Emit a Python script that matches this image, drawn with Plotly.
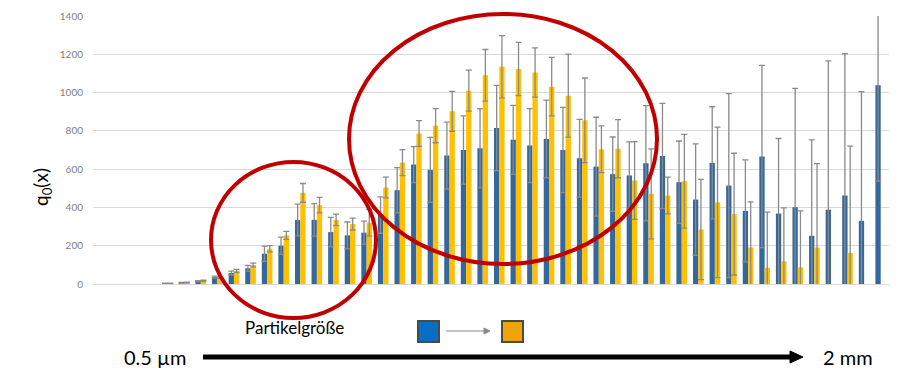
import plotly.graph_objects as go

# ---------------- data ----------------
classes = [str(i + 1) for i in range(48)]

q0_before = [None, None, None, None, 3, 6, 15, 36, 57, 82, 158, 200,
             334, 335, 271, 254, 268, 360, 490, 624, 596, 671, 700, 709,
             815, 753, 723, 758, 700, 657, 613, 574, 567, 631, 669, 532,
             441, 633, 514, 382, 666, 368, 401, 252, 388, 462, 330, 1038]
err_before = [None, None, None, None, 1, 2, 3, 5, 10, 15, 40, 45,
              83, 85, 77, 70, 60, 95, 118, 94, 170, 175, 178, 207,
              223, 180, 193, 203, 223, 203, 258, 194, 175, 301, 275, 215,
              291, 293, 480, 266, 476, 392, 621, 501, 778, 741, 675, 500]

q0_after = [None, None, None, None, 3, 8, 17, 33, 68, 99, 184, 254,
            476, 412, 335, 313, 320, 504, 634, 786, 827, 902, 1010, 1090,
            1135, 1123, 1105, 1031, 984, 855, 704, 707, 541, 471, 462, 537,
            285, 426, 365, 191, 85, 118, 87, 191, None, 162, None, None]
err_after = [None, None, None, None, 1, 2, 3, 4, 8, 10, 16, 21,
             49, 40, 30, 31, 70, 54, 68, 67, 89, 104, 107, 135,
             163, 139, 129, 153, 217, 221, 122, 152, 203, 235, 96, 245,
             262, 393, 318, 238, 290, 280, 295, 438, None, 558, None, None]

y_ticks = [0, 200, 400, 600, 800, 1000, 1200, 1400]
y_title = "q<sub>0</sub>(x)"
size_label = "Partikelgröße"
size_min = "0.5 µm"
size_max = "2 mm"

# ---------------- layout helpers ----------------
W, H = 897, 370
L, R, T, B = 93, 8, 16, 86
PW, PH = W - L - R, H - T - B


def px(xp):
    return (xp - L) / PW


def py(yp):
    return (T + PH - yp) / PH


FONT = "Lato, 'Open Sans', sans-serif"
BLUE = "#34679C"
YELLOW = "#FFC000"
ERR = "#8a8a8a"

fig = go.Figure()
fig.add_trace(go.Bar(
    x=classes, y=q0_before, marker_color=BLUE, marker_line_width=0,
    error_y=dict(type="data", array=err_before, visible=True,
                 color=ERR, thickness=1.3, width=3),
    showlegend=False))
fig.add_trace(go.Bar(
    x=classes, y=q0_after, marker_color=YELLOW, marker_line_width=0,
    error_y=dict(type="data", array=err_after, visible=True,
                 color=ERR, thickness=1.3, width=3),
    showlegend=False))

shapes = []
# red highlight ellipses
shapes.append(dict(type="circle", xref="paper", yref="paper",
                   x0=px(211), x1=px(376), y0=py(318), y1=py(162),
                   line=dict(color="#C00000", width=4), layer="above"))
shapes.append(dict(type="circle", xref="paper", yref="paper",
                   x0=px(349), x1=px(657), y0=py(264), y1=py(14),
                   line=dict(color="#C00000", width=4), layer="above"))
# legend squares
shapes.append(dict(type="rect", xref="paper", yref="paper",
                   x0=px(418), x1=px(439), y0=py(342), y1=py(321),
                   fillcolor="#0A6FC2", line=dict(color="#4a4a4a", width=2)))
shapes.append(dict(type="rect", xref="paper", yref="paper",
                   x0=px(502), x1=px(523), y0=py(342), y1=py(321),
                   fillcolor="#F0A30A", line=dict(color="#4a4a4a", width=2)))
# small grey arrow between the squares
shapes.append(dict(type="line", xref="paper", yref="paper",
                   x0=px(446), x1=px(486), y0=py(331), y1=py(331),
                   line=dict(color="#8a8a8a", width=1)))
shapes.append(dict(type="path", xref="paper", yref="paper",
                   path=f"M {px(484)} {py(328)} L {px(490)} {py(331)} L {px(484)} {py(334)} Z",
                   fillcolor="#8a8a8a", line=dict(color="#8a8a8a", width=1)))
# big size arrow
shapes.append(dict(type="line", xref="paper", yref="paper",
                   x0=px(203), x1=px(792), y0=py(357), y1=py(357),
                   line=dict(color="black", width=5)))
shapes.append(dict(type="path", xref="paper", yref="paper",
                   path=f"M {px(790)} {py(351)} L {px(803)} {py(357)} L {px(790)} {py(363)} Z",
                   fillcolor="black", line=dict(color="black", width=1)))

annotations = [
    dict(text=y_title, xref="paper", yref="paper", x=px(42), y=py(187),
         xanchor="center", yanchor="middle",
         showarrow=False, textangle=-90, font=dict(family=FONT, size=19, color="black")),
    dict(text=size_label, xref="paper", yref="paper", x=px(294), y=py(327),
         xanchor="center", yanchor="middle",
         showarrow=False, font=dict(family=FONT, size=17, color="black")),
    dict(text=size_min, xref="paper", yref="paper", x=px(155), y=py(357),
         xanchor="center", yanchor="middle",
         showarrow=False, font=dict(family=FONT, size=20, color="black")),
    dict(text=size_max, xref="paper", yref="paper", x=px(848), y=py(357),
         xanchor="center", yanchor="middle",
         showarrow=False, font=dict(family=FONT, size=20, color="black")),
]

fig.update_layout(
    width=W, height=H,
    margin=dict(l=L, r=R, t=T, b=B),
    paper_bgcolor="white", plot_bgcolor="white",
    barmode="group", bargap=0.36, bargroupgap=0,
    shapes=shapes, annotations=annotations,
    font=dict(family=FONT),
)
fig.update_xaxes(showticklabels=False, showgrid=False, zeroline=False,
                 showline=False, ticks="")
fig.update_yaxes(range=[0, 1400], tickvals=y_ticks, showgrid=True,
                 gridcolor="#d9d9d9", gridwidth=1, zeroline=True,
                 zerolinecolor="#d9d9d9", zerolinewidth=1,
                 showline=False, ticks="", ticklabelstandoff=9,
                 tickfont=dict(family=FONT, size=10, color="#7f7f7f"))

fig.write_html("out.html", config={"displayModeBar": False},
               post_script="document.body.style.margin='0px';"
                           "document.body.style.overflow='hidden';")
